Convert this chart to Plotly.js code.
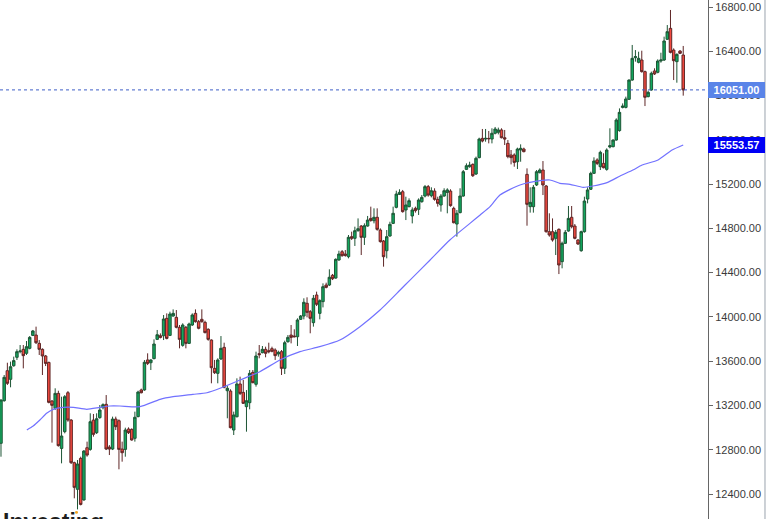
<!DOCTYPE html>
<html>
<head>
<meta charset="utf-8">
<script src="https://cdn.plot.ly/plotly-3.0.1.min.js"></script>
<style>
  html, body { margin: 0; padding: 0; background: #ffffff; }
  #chart { width: 769px; height: 519px; }
</style>
</head>
<body>
<div id="chart"></div>
<script>
// ---- Data ----
const open = [
12858,13243,13514,13436,13559,13635,13686,13707,13671,13716,13833,13836,13761,13707,13647,13589,13240,13174,13309,12812,
12963,13315,13068,12683,12442,12722,12346,12818,12803,13068,12954,13090,13180,13210,12824,12806,13077,13062,12806,12803,
12987,12984,12903,13099,13340,13340,13611,13586,13623,13797,13830,13830,13987,13833,14008,13996,13906,13743,13906,13761,
13927,14032,13957,13978,13951,13888,13791,13535,13490,13620,13725,13333,13330,12978,13098,13394,13318,13189,13225,13499,
13391,13668,13677,13707,13695,13713,13701,13665,13686,13535,13776,13836,13827,13821,13978,14008,14123,14047,13948,14198,
14032,14138,14288,14288,14376,14351,14514,14589,14568,14544,14725,14710,14779,14821,14719,14821,14890,14869,14900,14785,
14686,14598,14731,14845,14990,15107,15131,14966,14996,14912,14981,14972,15041,15092,15177,15095,15137,15062,15011,15092,
15125,15137,14981,14839,14942,15092,15333,15357,15378,15291,15439,15613,15607,15613,15607,15659,15668,15689,15619,15568,
15463,15463,15402,15508,15517,15288,14996,14996,15192,15303,15327,15183,14770,14770,14710,14791,14499,14665,14776,14900,
14821,14695,14598,14770,15065,15153,15297,15418,15357,15387,15333,15535,15538,15598,15683,15893,15893,15966,16140,16342,
16300,16321,16216,15990,16050,16222,16210,16312,16321,16508,16607,16411,16306,16402,16366
];
const high = [
13255,13475,13586,13596,13641,13707,13746,13746,13782,13827,13882,13912,13791,13716,13656,13595,13249,13355,13333,13279,
13294,13330,13077,12692,12707,12737,12797,12873,13129,13123,13129,13204,13219,13294,12842,13099,13099,13074,12873,12999,
13002,12993,13144,13333,13352,13610,13671,13617,13797,13882,13851,14017,14032,14047,14068,14062,13927,13942,13918,13948,
14032,14068,13972,14068,13966,13897,13797,13611,13626,13827,13767,13376,13346,13144,13445,13460,13430,13339,13520,13520,
13686,13746,13737,13731,13767,13731,13716,13695,13701,13785,13836,13927,13888,13987,14017,14168,14177,14062,14198,14228,
14159,14303,14309,14430,14388,14529,14598,14604,14604,14740,14770,14815,14890,14830,14845,14912,14996,14981,14981,14800,
14695,14785,14860,14996,15140,15153,15147,15086,15071,14990,14996,15071,15101,15192,15192,15171,15162,15086,15110,15162,
15162,15153,14996,14966,15162,15327,15387,15402,15387,15448,15619,15698,15698,15680,15704,15716,15710,15704,15689,15598,
15508,15478,15529,15559,15529,15342,15171,15192,15327,15342,15408,15192,14936,14890,14785,14800,14680,14785,15002,15002,
14839,14701,14779,15086,15171,15312,15442,15433,15502,15478,15523,15704,15604,15794,15884,15929,15990,16146,16457,16411,
16396,16405,16225,16044,16216,16246,16327,16387,16532,16637,16773,16426,16381,16411,16448
];
const low = [
12737,13234,13385,13364,13550,13611,13671,13535,13656,13707,13827,13755,13656,13475,13556,13219,12864,13159,12828,12677,
12948,13053,12671,12361,12261,12297,12340,12737,12791,12918,12942,13080,13165,12797,12752,12797,12978,12623,12692,12737,
12942,12882,12873,13093,13309,13333,13565,13520,13617,13791,13806,13791,13797,13827,14002,13897,13716,13731,13716,13755,
13918,13948,13888,13948,13851,13785,13400,13484,13400,13611,13355,13084,12993,12933,13092,13294,13213,12963,13165,13400,
13370,13626,13671,13635,13671,13680,13611,13641,13475,13484,13767,13761,13815,13737,13972,13978,13996,13852,13912,14098,
13978,14086,14258,14279,14333,14345,14508,14544,14544,14529,14695,14641,14770,14559,14650,14815,14860,14845,14779,14671,
14454,14529,14725,14839,14981,15101,14942,14875,14990,14845,14942,14921,15032,15080,15086,15080,15050,14996,14951,15086,
14936,14996,14845,14725,14936,15086,15327,15348,15264,15282,15433,15577,15583,15568,15568,15649,15649,15613,15553,15433,
15378,15357,15336,15402,15487,14824,14942,14942,15183,15297,15101,14761,14725,14680,14559,14387,14439,14659,14770,14800,
14701,14650,14589,14761,15026,15147,15291,15372,15327,15342,15321,15523,15532,15592,15674,15884,15884,15960,16134,16306,
16291,16207,15905,15984,16044,16186,16201,16297,16312,16502,16381,16140,16116,16375,15999
];
const close = [
13249,13454,13400,13550,13605,13686,13692,13650,13731,13815,13873,13767,13707,13647,13580,13228,13201,13309,12837,12924,
13279,13068,12683,12460,12671,12306,12788,12752,13053,12939,13080,13159,13207,12806,12806,13077,13008,12803,12773,12978,
12954,12888,13093,13321,13315,13590,13580,13611,13755,13839,13815,13981,13806,14026,14032,13906,13797,13927,13761,13936,
14017,13957,13897,13957,13858,13797,13541,13496,13611,13716,13364,13355,12999,13114,13394,13309,13219,13243,13490,13406,
13647,13659,13707,13671,13686,13689,13650,13680,13535,13767,13815,13815,13821,13972,14008,14132,14041,13987,14168,14114,
14147,14273,14267,14358,14345,14520,14568,14553,14556,14719,14710,14779,14797,14719,14824,14875,14872,14900,14791,14680,
14544,14725,14836,14936,15110,15125,14951,15011,15050,14966,14960,15056,15080,15177,15101,15140,15062,15026,15092,15140,
15147,15005,14851,14936,15092,15312,15366,15372,15276,15433,15607,15589,15613,15610,15659,15698,15689,15619,15607,15448,
15439,15396,15517,15523,15493,15017,15035,15171,15312,15327,15192,14770,14740,14695,14764,14469,14665,14764,14890,14815,
14710,14659,14770,15047,15147,15297,15408,15387,15487,15348,15508,15547,15598,15779,15848,15905,15969,16140,16336,16351,
16336,16216,15984,16029,16201,16195,16312,16321,16493,16577,16390,16315,16372,16381,16051
];

// Moving-average line, sampled along the picture (bar position, value)
const maX = [8.1,10.1,12.2,14.3,16.4,19.5,22.7,26.9,31.1,34.2,37.3,43.6,49.9,54,60.2,64.6,68.7,75,81.2,87.5,
             93.8,100,106.3,112.6,118.9,125.2,128.3,134.6,140.8,147.1,150.3,153.4,156.5,162.8,169.1,172.2,175.3,178.5,182.6,185.7,
             190.1,194.2,198.2,201.1,206.1,210.5,214];
const maY = [12978,13014,13068,13129,13165,13183,13183,13165,13183,13195,13195,13189,13255,13279,13300,13315,13355,13430,13505,13611,
             13686,13731,13791,13912,14062,14243,14333,14514,14695,14845,14921,14996,15101,15192,15231,15237,15207,15198,15171,15183,
             15213,15273,15327,15372,15418,15508,15553.57];

const yTicks = [12400,12800,13200,13600,14000,14400,14800,15200,15600,16000,16400,16800];
const lastPrice = 16051.00;
const maLast = 15553.57;

// ---- Chart ----
const barX = close.map((_, i) => i);

const maTrace = {
  type: 'scatter', mode: 'lines', x: maX, y: maY,
  line: { color: '#7272ff', width: 1.2, shape: 'spline', smoothing: 0.6 },
  hoverinfo: 'skip'
};

const candleTrace = {
  type: 'candlestick', x: barX, open: open, high: high, low: low, close: close,
  increasing: { line: { color: '#1d5535', width: 1 }, fillcolor: '#12a85f' },
  decreasing: { line: { color: '#5e2626', width: 1 }, fillcolor: '#f2493f' },
  whiskerwidth: 0,
  hoverinfo: 'skip'
};

const layout = {
  width: 769, height: 519,
  margin: { l: 0, r: 61, t: 0, b: 0, pad: 0 },
  paper_bgcolor: '#ffffff', plot_bgcolor: '#ffffff',
  showlegend: false,
  boxgap: 0.12, boxgroupgap: 0.12,
  xaxis: {
    range: [-0.31, 221.77], visible: false, showgrid: false, zeroline: false,
    rangeslider: { visible: false }, fixedrange: true
  },
  yaxis: {
    side: 'right', range: [12174.1, 16863.2],
    tickvals: yTicks, ticktext: yTicks.map(v => v.toFixed(2)),
    ticks: 'outside', ticklen: 4, tickcolor: '#666', tickwidth: 1,
    showline: true, linecolor: '#666', linewidth: 1,
    showgrid: false, zeroline: false, fixedrange: true,
    tickfont: { family: 'Arial, "Liberation Sans", sans-serif', size: 11, color: '#3a3a3a' }
  },
  shapes: [
    { type: 'line', xref: 'paper', yref: 'y', x0: 0, x1: 1, y0: lastPrice, y1: lastPrice,
      line: { color: '#3f5fc8', width: 1, dash: 'dot' } },
    { type: 'line', xref: 'paper', yref: 'paper', x0: 1.0805, x1: 1.0805, y0: 0, y1: 1,
      line: { color: '#9aa3ad', width: 1 } },
    { type: 'circle', xref: 'paper', yref: 'paper', x0: 0.1059, x1: 0.1102, y0: 0.0100, y1: 0.0155,
      fillcolor: '#f5a623', line: { width: 0 } }
  ],
  annotations: [
    { xref: 'paper', yref: 'y', x: 1, y: lastPrice, xanchor: 'left', yanchor: 'middle',
      text: '<b>' + lastPrice.toFixed(2) + '</b>', showarrow: false,
      bgcolor: '#5a84e8', borderpad: 2, borderwidth: 0, width: 53, height: 12, align: 'center',
      font: { family: 'Arial, "Liberation Sans", sans-serif', size: 11, color: '#ffffff' } },
    { xref: 'paper', yref: 'y', x: 1, y: maLast, xanchor: 'left', yanchor: 'middle',
      text: '<b>' + maLast.toFixed(2) + '</b>', showarrow: false,
      bgcolor: '#0000f5', borderpad: 2, borderwidth: 0, width: 53, height: 12, align: 'center',
      font: { family: 'Arial, "Liberation Sans", sans-serif', size: 11, color: '#ffffff' } },
    { xref: 'paper', yref: 'paper', x: 0, y: 0, xanchor: 'left', yanchor: 'top', yshift: 12, xshift: 1,
      text: '<b>Investing</b>', showarrow: false,
      font: { family: 'Arial, "Liberation Sans", sans-serif', size: 23, color: '#1e1e1e' } }
  ]
};

Plotly.newPlot('chart', [maTrace, candleTrace], layout, { displayModeBar: false, staticPlot: true });
</script>
</body>
</html>
